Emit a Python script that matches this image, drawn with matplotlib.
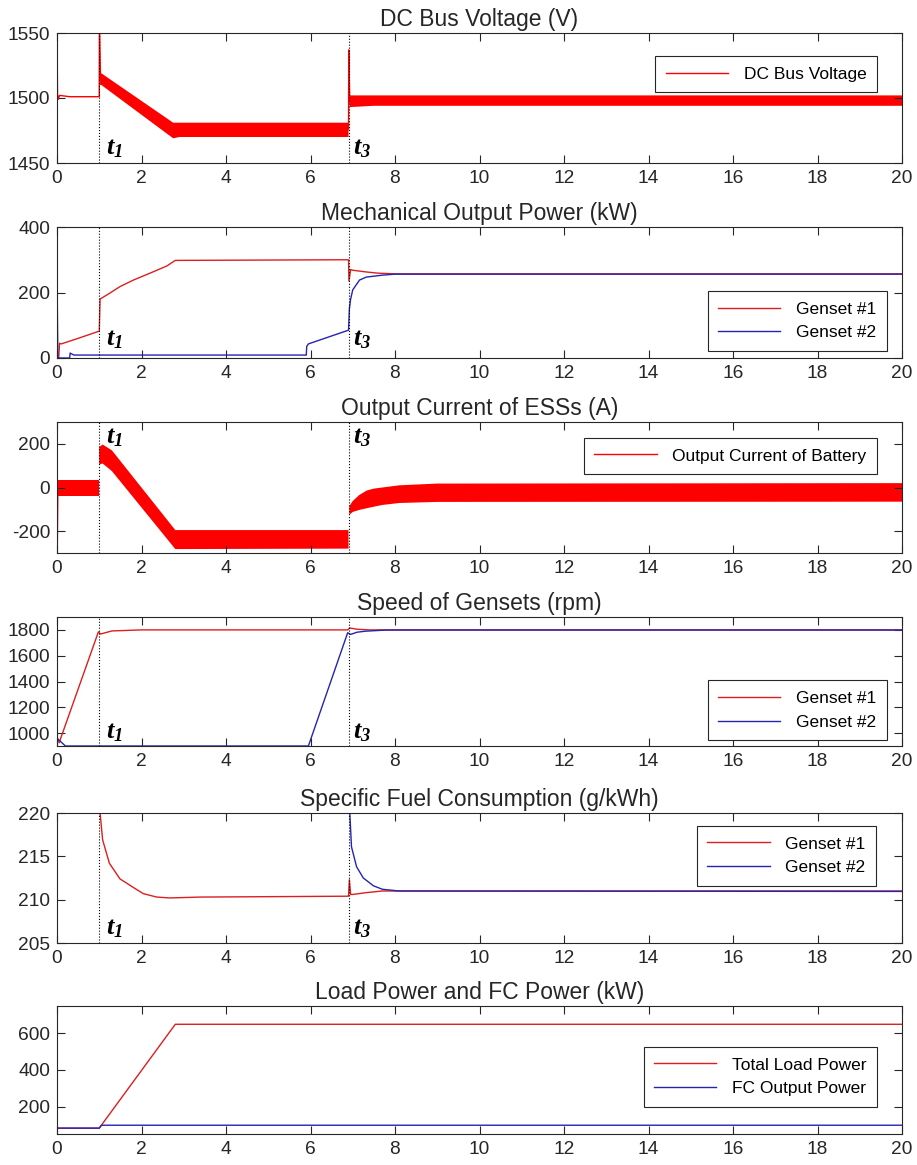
import numpy as np
import matplotlib
matplotlib.use("Agg")
import matplotlib.pyplot as plt

plt.rcParams['font.family'] = ['Liberation Sans', 'DejaVu Sans']
plt.rcParams['axes.unicode_minus'] = False
plt.rcParams['mathtext.fontset'] = 'custom'
plt.rcParams['mathtext.rm'] = 'Liberation Serif:italic:bold'
plt.rcParams['mathtext.it'] = 'Liberation Serif:italic:bold'

nan = np.nan

# DC bus voltage (V): thin trace (start-up and switching spikes) plus ripple envelope
volt_t = [0, 0.004, 0.012, 0.03, 0.06, 0.3, 0.99, 1.0, 1.004, 1.03, nan, 6.9, 6.905, 6.93]
volt_v = [1450, 1535, 1503, 1499, 1502, 1501, 1501, 1501, 1560, 1514, nan, 1476, 1537, 1497]
volt_band_t = [1.02, 1.05, 2.75, 2.9, 6.9, nan, 6.93, 7.5, 8.0, 20]
volt_band_hi = [1519, 1519, 1481, 1481, 1481, nan, 1502, 1502, 1502, 1502]
volt_band_lo = [1510, 1510, 1469, 1470, 1470, nan, 1493, 1494, 1494, 1494]

# mechanical output power (kW)
mech_g1_t = [0, 0.04, 0.06, 0.1, 0.5, 1.0, 1.02, 1.25, 1.49, 1.81, 2.2, 2.6, 2.8, 6.9, 6.91, 6.95, 7.0, 7.3, 7.6, 8.0, 20]
mech_g1_v = [0, 0, 45, 43, 60, 82, 180, 198, 218, 238, 259, 281, 298, 300, 235, 270, 268, 263, 259, 257, 257]
mech_g2_t = [0, 0.005, 0.02, 0.3, 0.31, 0.4, 5.9, 5.91, 5.95, 6.9, 6.92, 6.95, 7.0, 7.16, 7.32, 7.7, 8.0, 20]
mech_g2_v = [200, 195, 0, 0, 15, 9, 9, 35, 43, 85, 150, 180, 208, 238, 247, 253, 256, 256]

# battery output current (A): thin trace plus ripple envelope
cur_t = [0, 0.003, 0.006, 0.02]
cur_v = [60, 80, -300, 0]
cur_band_t = [0.02, 1.0, nan, 1.0, 1.08, 1.3, 2.8, 6.9, nan,
              6.92, 7.0, 7.15, 7.33, 7.5, 7.7, 8.1, 9.0, 20]
cur_band_hi = [35, 35, nan, 185, 197, 170, -195, -195, nan,
               -85, -62, -35, -14, -5, 0, 10, 18, 20]
cur_band_lo = [-40, -40, nan, 105, 110, 75, -282, -280, nan,
               -125, -112, -103, -95, -88, -80, -71, -66, -65]

# genset speed (rpm)
spd_g1_t = [0, 0.05, 0.98, 1.03, 1.3, 2.0, 6.88, 6.93, 7.1, 7.4, 20]
spd_g1_v = [975, 925, 1785, 1768, 1792, 1800, 1800, 1815, 1805, 1800, 1800]
spd_g2_t = [0, 0.05, 0.2, 5.95, 6.88, 6.95, 7.1, 7.3, 7.8, 20]
spd_g2_v = [955, 945, 900, 900, 1778, 1765, 1782, 1790, 1799, 1799]

# specific fuel consumption (g/kWh)
sfc_g1_t = [1.0, 1.08, 1.24, 1.49, 1.65, 1.81, 2.04, 2.36, 2.67, 3.4, 6.9, 6.92, 6.95, 7.0, 7.3, 7.7, 20]
sfc_g1_v = [221, 216.9, 214.2, 212.4, 211.9, 211.4, 210.7, 210.3, 210.2, 210.3, 210.4, 212.3, 210.6, 210.6, 210.8, 211.0, 211.0]
sfc_g2_t = [6.92, 6.97, 7.09, 7.25, 7.49, 7.7, 8.1, 20]
sfc_g2_v = [221, 216.1, 213.8, 212.5, 211.6, 211.2, 211.0, 210.95]

# load power and fuel cell power (kW)
load_t = [0, 1.0, 2.8, 20]
load_v = [82, 82, 650, 650]
fc_t = [0, 1.0, 1.05, 20]
fc_v = [82, 82, 98, 98]

t_events = [1.0, 6.9]
x_ticks = np.arange(0, 21, 2)

red = '#ff0000'
red_line = '#dc1e1e'
blue_line = '#2424b0'
ink = '#262626'

W, H = 917, 1165
left_px, right_px = 57, 902
panels_px = [(33, 163), (227, 358), (422, 553), (617, 746), (813, 943), (1006, 1134)]

fig = plt.figure(figsize=(W / 100, H / 100), dpi=100)
axes = []
for top, bot in panels_px:
    ax = fig.add_axes([left_px / W, 1 - bot / H, (right_px - left_px) / W, (bot - top) / H])
    ax.set_xlim(0, 20)
    ax.set_xticks(x_ticks)
    ax.tick_params(direction='in', top=True, right=True, length=6, width=0.8,
                   colors=ink, labelsize=13.8, pad=5)
    for sp in ax.spines.values():
        sp.set_color(ink)
        sp.set_linewidth(0.8)
    axes.append(ax)


def mark_events(ax, y, va):
    for te in t_events:
        ax.axvline(te, color='black', linestyle=':', linewidth=0.8, zorder=5)
    ax.text(1.15, y, r'$t_1$', fontsize=19, va=va, ha='left', zorder=6)
    ax.text(7.0, y, r'$t_3$', fontsize=19, va=va, ha='left', zorder=6)


def add_legend(ax, anchor):
    leg = ax.legend(loc='upper right', bbox_to_anchor=anchor, fontsize=12.5,
                    fancybox=False, edgecolor=ink, framealpha=1,
                    handlelength=3.6, handletextpad=0.9, borderpad=0.6,
                    labelspacing=0.5, borderaxespad=0)
    leg.get_frame().set_linewidth(0.8)


title_kw = dict(fontsize=16.5, color=ink, pad=5)

# DC bus voltage
ax = axes[0]
ax.plot(volt_t, volt_v, color=red, linewidth=1.0, label='DC Bus Voltage')
ax.fill_between(volt_band_t, volt_band_lo, volt_band_hi, color=red, linewidth=0)
ax.set_ylim(1450, 1550)
ax.set_yticks([1450, 1500, 1550])
ax.set_title('DC Bus Voltage (V)', **title_kw)
mark_events(ax, 1452, 'bottom')
add_legend(ax, (0.9704, 0.823))

# mechanical output power
ax = axes[1]
ax.plot(mech_g1_t, mech_g1_v, color=red_line, linewidth=1.0, label='Genset #1')
ax.plot(mech_g2_t, mech_g2_v, color=blue_line, linewidth=1.0, label='Genset #2')
ax.set_ylim(0, 400)
ax.set_yticks([0, 200, 400])
ax.set_title('Mechanical Output Power (kW)', **title_kw)
mark_events(ax, 20, 'bottom')
add_legend(ax, (0.982, 0.511))

# battery current
ax = axes[2]
ax.plot(cur_t, cur_v, color=red, linewidth=1.0, label='Output Current of Battery')
ax.fill_between(cur_band_t, cur_band_lo, cur_band_hi, color=red, linewidth=0)
ax.set_ylim(-300, 300)
ax.set_yticks([-200, 0, 200])
ax.set_title('Output Current of ESSs (A)', **title_kw)
mark_events(ax, 285, 'top')
add_legend(ax, (0.9704, 0.878))

# genset speed
ax = axes[3]
ax.plot(spd_g1_t, spd_g1_v, color=red_line, linewidth=1.0, label='Genset #1')
ax.plot(spd_g2_t, spd_g2_v, color=blue_line, linewidth=1.0, label='Genset #2')
ax.set_ylim(900, 1900)
ax.set_yticks(np.arange(1000, 1801, 200))
ax.set_title('Speed of Gensets (rpm)', **title_kw)
mark_events(ax, 915, 'bottom')
add_legend(ax, (0.982, 0.51))

# specific fuel consumption
ax = axes[4]
ax.plot(sfc_g1_t, sfc_g1_v, color=red_line, linewidth=1.0, label='Genset #1')
ax.plot(sfc_g2_t, sfc_g2_v, color=blue_line, linewidth=1.0, label='Genset #2')
ax.set_ylim(205, 220)
ax.set_yticks([205, 210, 215, 220])
ax.set_title('Specific Fuel Consumption (g/kWh)', **title_kw)
mark_events(ax, 205.4, 'bottom')
add_legend(ax, (0.969, 0.9))

# load and fuel cell power
ax = axes[5]
ax.plot(load_t, load_v, color=red_line, linewidth=1.0, label='Total Load Power')
ax.plot(fc_t, fc_v, color=blue_line, linewidth=1.0, label='FC Output Power')
ax.set_ylim(50, 750)
ax.set_yticks([200, 400, 600])
ax.set_title('Load Power and FC Power (kW)', **title_kw)
add_legend(ax, (0.9704, 0.68))

fig.savefig('out.png', dpi=100)
